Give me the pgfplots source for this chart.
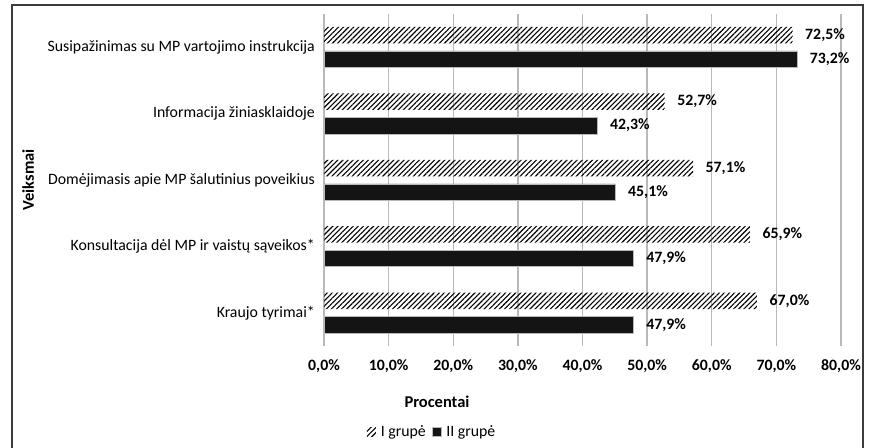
\documentclass[border=0pt]{standalone}
\usepackage{pgfplots}
\pgfplotsset{compat=1.18}
\usepackage{fontspec}
\setmainfont{Carlito}
\usetikzlibrary{patterns.meta}
\definecolor{gridgray}{RGB}{185,185,185}
\definecolor{barblack}{RGB}{20,20,20}
\definecolor{framegray}{RGB}{60,60,60}
\begin{document}
\begin{tikzpicture}
\useasboundingbox (0,0) rectangle (874pt,447pt);
\draw[framegray, line width=1.6pt] (12pt,-10pt) -- (12pt,442pt) -- (863pt,442pt) -- (863pt,-10pt);
\begin{axis}[
  at={(324pt,101pt)}, anchor=south west,
  scale only axis, width=517pt, height=332pt,
  /pgf/number format/assume math mode=true,
  xbar, bar width=16.5pt,
  xmin=0, xmax=80, ymin=-0.5, ymax=4.5,
  axis line style={draw=none},
  xtick={0,10,20,30,40,50,60,70,80},
  xticklabels={{0,0\%},{10,0\%},{20,0\%},{30,0\%},{40,0\%},{50,0\%},{60,0\%},{70,0\%},{80,0\%}},
  xmajorgrids, major grid style={gridgray, line width=1.4pt},
  major tick length=0pt,
  ytick={0,1,2,3,4},
  yticklabels={{Kraujo tyrimai*},{Konsultacija dėl MP ir vaistų sąveikos*},{Domėjimasis apie MP šalutinius poveikius},{Informacija žiniasklaidoje},{Susipažinimas su MP vartojimo instrukcija}},
  tick label style={font=\fontsize{15.8}{18}\selectfont, text=black},
  xticklabel style={anchor=center, yshift=-20pt, font=\fontsize{15.8}{18}\selectfont\bfseries},
  yticklabel style={anchor=east, inner sep=0pt, xshift=-9pt},
  xlabel={Procentai}, ylabel={Veiksmai},
  xlabel style={at={(rel axis cs:0.2186,-0.1687)}, anchor=center, font=\fontsize{16.5}{19}\selectfont\bfseries},
  ylabel style={at={(rel axis cs:-0.5725,0.5)}, anchor=center, font=\fontsize{16.5}{19}\selectfont\bfseries},
  nodes near coords={\pgfmathprintnumber[fixed,fixed zerofill,precision=1,use comma]{\pgfplotspointmeta}\%},
  nodes near coords style={anchor=west, inner sep=0pt, xshift=12.5pt, font=\fontsize{15.8}{18}\selectfont\bfseries, text=black},
  legend style={at={(rel axis cs:0.209,-0.259)}, anchor=center, draw=none, fill=none, legend columns=2,
    font=\fontsize{15.8}{18}\selectfont,
    /tikz/every odd column/.append style={column sep=3pt},
    /tikz/every even column/.append style={column sep=4pt},
    legend cell align=left},
  legend image code/.code={\fill[#1] (0pt,-4.5pt) rectangle (9pt,4.5pt);},
]
\addplot[draw=none, bar shift=12pt, pattern={Lines[angle=45,distance=3.6pt,line width=1.1pt]}, pattern color=black]
  coordinates {(67.0,0) (65.9,1) (57.1,2) (52.7,3) (72.5,4)};
\addlegendentry{I grupė}
\addplot[draw=gridgray, line width=0.5pt, fill=barblack, bar shift=-12pt]
  coordinates {(47.9,0) (47.9,1) (45.1,2) (42.3,3) (73.2,4)};
\addlegendentry{II grupė}
\end{axis}
\end{tikzpicture}
\end{document}
